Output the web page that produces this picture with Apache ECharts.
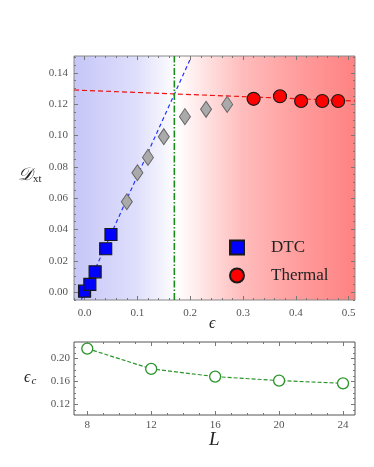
<!DOCTYPE html>
<html>
<head>
<meta charset="utf-8">
<script src="https://cdn.jsdelivr.net/npm/echarts@6/dist/echarts.min.js"></script>
<style>
  html, body { margin: 0; padding: 0; background: #fff; }
  #main { width: 374px; height: 467px; }
</style>
</head>
<body>
<div id="main"></div>
<script>
// top panel: D_xt vs epsilon
const dtcEps = [0, 0.01, 0.02, 0.04, 0.05]
const dtcD = [0.0006, 0.005, 0.013, 0.0277, 0.0368]
const midEps = [0.08, 0.1, 0.12, 0.15, 0.19, 0.23, 0.27]
const midD = [0.0577, 0.0762, 0.086, 0.0992, 0.112, 0.1167, 0.1198]
const thermEps = [0.32, 0.37, 0.41, 0.45, 0.48]
const thermD = [0.1234, 0.125, 0.122, 0.122, 0.122]
const blueFitEps = [-0.006, 0.2017]
const blueFitD = [-0.0047, 0.1499]
const redFitEps = [-0.02, 0.512]
const redFitD = [0.129, 0.122]
const epsCrit = 0.17

// bottom panel: eps_c vs L
const sizesL = [8, 12, 16, 20, 24]
const epsC = [0.2175, 0.182, 0.1685, 0.1615, 0.1568]

// tick labels
const epsTicks = [0, 0.1, 0.2, 0.3, 0.4, 0.5]
const dTicks = [0, 0.02, 0.04, 0.06, 0.08, 0.1, 0.12, 0.14]
const lTicks = [8, 12, 16, 20, 24]
const ecTicks = [0.12, 0.16, 0.2]

const zip = (a, b) => a.map((v, i) => [v, b[i]])
const steps = (from, to, step) => {
  const out = []
  for (let v = from; v <= to + 1e-9; v += step) out.push(+v.toFixed(4))
  return out
}

const tickColor = '#777'
const labelColor = '#555'
const serif = '"Liberation Serif", "DejaVu Serif", serif'

function makeAxes(gi, pos1, pos2, min, max, majors, minors, fmt, margin) {
  const base = {
    gridIndex: gi, type: 'value', min, max,
    splitLine: { show: false },
    axisLine: { show: false, onZero: false }
  }
  const tick = (vals, len) => ({
    show: true, inside: true, length: len, customValues: vals,
    lineStyle: { color: tickColor, width: 1 }
  })
  return [
    Object.assign({}, base, {
      position: pos1, axisTick: tick(majors, 4),
      axisLabel: {
        customValues: majors, formatter: fmt, margin,
        color: labelColor, fontFamily: serif, fontSize: 11
      }
    }),
    Object.assign({}, base, { position: pos2, axisTick: tick(majors, 4), axisLabel: { show: false } }),
    Object.assign({}, base, { position: pos1, axisTick: tick(minors, 2), axisLabel: { show: false } }),
    Object.assign({}, base, { position: pos2, axisTick: tick(minors, 2), axisLabel: { show: false } })
  ]
}

const chart = echarts.init(document.getElementById('main'))

const bg = new echarts.graphic.LinearGradient(0, 0, 1, 0, [
  { offset: 0, color: '#c6c6f8' },
  { offset: 0.22, color: '#dedefc' },
  { offset: 0.367, color: '#ffffff' },
  { offset: 0.6, color: '#ffbcbc' },
  { offset: 0.8, color: '#ff9c9c' },
  { offset: 1, color: '#ff8282' }
])

chart.setOption({
  animation: false,
  grid: [
    { left: 74, top: 56, width: 281, height: 244, show: true, backgroundColor: bg, borderColor: '#888', borderWidth: 1 },
    { left: 74, top: 342, width: 281, height: 73, show: true, backgroundColor: '#fff', borderColor: '#555', borderWidth: 1 }
  ],
  xAxis: [
    ...makeAxes(0, 'bottom', 'top', -0.02, 0.512, epsTicks, steps(-0.02, 0.5, 0.02), v => v.toFixed(1), 8),
    ...makeAxes(1, 'bottom', 'top', 7.17, 24.75, lTicks, steps(8, 24, 1), v => String(v), 5)
  ],
  yAxis: [
    ...makeAxes(0, 'left', 'right', -0.005, 0.1507, dTicks, steps(-0.005, 0.15, 0.005), v => v.toFixed(2), 6),
    ...makeAxes(1, 'left', 'right', 0.1014, 0.229, ecTicks, steps(0.11, 0.22, 0.01), v => v.toFixed(2), 4)
  ],
  legend: {
    data: ['DTC', 'Thermal'],
    orient: 'vertical',
    left: 224, top: 234,
    itemWidth: 14, itemHeight: 14, itemGap: 11,
    textStyle: { fontFamily: serif, fontSize: 17, color: '#222', padding: [0, 0, 0, 22] }
  },
  series: [
    {
      type: 'line', xAxisIndex: 0, yAxisIndex: 0,
      data: zip(blueFitEps, blueFitD), symbol: 'none', silent: true, z: 2,
      lineStyle: { color: '#2233ff', width: 1.2, type: [4, 3] }
    },
    {
      type: 'line', xAxisIndex: 0, yAxisIndex: 0,
      data: zip(redFitEps, redFitD), symbol: 'none', silent: true, z: 2,
      lineStyle: { color: '#ee1111', width: 1.2, type: [5, 3] }
    },
    {
      type: 'line', xAxisIndex: 0, yAxisIndex: 0,
      data: [[epsCrit, -0.005], [epsCrit, 0.1507]], symbol: 'none', silent: true, z: 2,
      lineStyle: { color: '#1a8a1a', width: 1.6, type: [7, 2, 1.5, 2] }
    },
    {
      type: 'scatter', xAxisIndex: 0, yAxisIndex: 0,
      data: zip(midEps, midD), symbol: 'diamond', symbolSize: [11, 16], z: 3,
      itemStyle: { color: '#aaaaaa', borderColor: '#666666', borderWidth: 1, opacity: 1 }
    },
    {
      name: 'DTC', type: 'scatter', xAxisIndex: 0, yAxisIndex: 0,
      data: zip(dtcEps, dtcD), symbol: 'rect', symbolSize: 12, z: 4,
      itemStyle: { color: '#0000ff', borderColor: '#1a1a1a', borderWidth: 1.2, opacity: 1 }
    },
    {
      name: 'Thermal', type: 'scatter', xAxisIndex: 0, yAxisIndex: 0,
      data: zip(thermEps, thermD), symbol: 'circle', symbolSize: 13, z: 4,
      itemStyle: { color: '#ff0000', borderColor: '#1a1a1a', borderWidth: 1.2, opacity: 1 }
    },
    {
      type: 'line', xAxisIndex: 4, yAxisIndex: 4,
      data: zip(sizesL, epsC), symbol: 'circle', symbolSize: 11, showSymbol: true,
      lineStyle: { color: '#2a952a', width: 1.2, type: [4, 2] },
      itemStyle: { color: '#fff', borderColor: '#2a952a', borderWidth: 1.3 }
    }
  ],
  graphic: [
    {
      type: 'text', left: 18, top: 166,
      style: {
        text: '{d|𝒟}{s|xt}',
        rich: {
          d: { fontFamily: serif, fontSize: 18, fill: '#222', fontStyle: 'italic' },
          s: { fontFamily: serif, fontSize: 11, fill: '#222', verticalAlign: 'bottom', padding: [8, 0, 0, 1] }
        }
      }
    },
    {
      type: 'text', left: 209, top: 316,
      style: { text: 'ϵ', font: 'italic 16px ' + serif, fill: '#222' }
    },
    {
      type: 'text', left: 24, top: 370,
      style: {
        text: '{e|ϵ}{s|c}',
        rich: {
          e: { fontFamily: serif, fontSize: 16, fontStyle: 'italic', fill: '#222' },
          s: { fontFamily: serif, fontSize: 11, fontStyle: 'italic', fill: '#222', padding: [6, 0, 0, 1] }
        }
      }
    },
    {
      type: 'text', left: 209, top: 430,
      style: { text: 'L', font: 'italic 19px ' + serif, fill: '#222' }
    }
  ]
})
</script>
</body>
</html>
